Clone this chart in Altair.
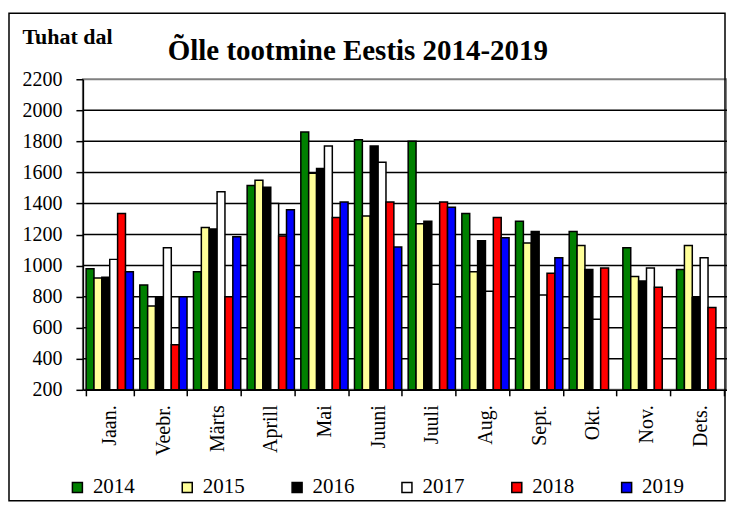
import altair as alt
import pandas as pd

months = ["Jaan.", "Veebr.", "Märts", "Aprill", "Mai", "Juuni",
          "Juuli", "Aug.", "Sept.", "Okt.", "Nov.", "Dets."]
years = ["2014", "2015", "2016", "2017", "2018", "2019"]
colors = ["#008000", "#FFFF99", "#000000", "#FFFFFF", "#FF0000", "#0000FF"]

v2014 = [980, 875, 960, 1515, 1860, 1810, 1800, 1335, 1285, 1220, 1115, 975]
v2015 = [920, 740, 1245, 1550, 1595, 1320, 1270, 960, 1145, 1130, 930, 1130]
v2016 = [925, 800, 1235, 1505, 1625, 1770, 1285, 1160, 1220, 975, 900, 795]
v2017 = [1040, 1115, 1475, 1400, 1770, 1665, 880, 835, 810, 655, 985, 1050]
v2018 = [1335, 490, 800, 1190, 1310, 1410, 1410, 1310, 950, 985, 860, 730]
v2019 = [960, 800, 1185, 1360, 1410, 1120, 1375, 1180, 1050, None, None, None]

y_ticks = [200, 400, 600, 800, 1000, 1200, 1400, 1600, 1800, 2000, 2200]
grid_vals = [400, 600, 800, 1000, 1200, 1400, 1600, 1800, 2000]

series = [v2014, v2015, v2016, v2017, v2018, v2019]
rows = []
for yr, vals in zip(years, series):
    for m, v in zip(months, vals):
        if v is not None:
            rows.append({"month": m, "year": yr, "value": v})
df = pd.DataFrame(rows)

FONT = "Liberation Serif"

y_scale = alt.Scale(domain=[200, 2200], nice=False, zero=False)
y_axis = alt.Axis(values=y_ticks, format="d", grid=False,
                  title="Tuhat dal", titleAngle=0,
                  titleX=-61, titleY=-36,
                  titleAlign="left", titleBaseline="alphabetic")

grid = alt.Chart(pd.DataFrame({"value": grid_vals})).mark_rule(
    color="black", strokeWidth=1.5
).encode(y=alt.Y("value:Q", scale=y_scale, axis=y_axis))

bars = alt.Chart(df).mark_bar(stroke="black", strokeWidth=1.5).encode(
    x=alt.X("month:N", sort=months,
            scale=alt.Scale(paddingInner=0.12, paddingOuter=0.06),
            axis=alt.Axis(title=None, labelAngle=-90, tickBand="extent",
                          grid=False)),
    xOffset=alt.XOffset("year:N", sort=years,
                        scale=alt.Scale(paddingInner=0, paddingOuter=0)),
    y=alt.Y("value:Q", scale=y_scale, axis=y_axis),
    y2=alt.datum(200),
    color=alt.Color("year:N", sort=years,
                    scale=alt.Scale(domain=years, range=colors),
                    legend=alt.Legend(title=None, orient="none",
                                      legendX=-16, legendY=398,
                                      direction="horizontal", columns=6,
                                      symbolType="square", symbolSize=100,
                                      symbolStrokeColor="black",
                                      symbolStrokeWidth=1.5,
                                      labelOffset=5,
                                      columnPadding=42, padding=0)),
)

frame = alt.Chart(pd.DataFrame({"a": [0]})).mark_rect(
    fill=None, stroke="black", strokeWidth=1.5
).encode(
    x=alt.value(-74), x2=alt.value(643),
    y=alt.value(-66), y2=alt.value(422),
)

chart = alt.layer(grid, bars, frame).properties(
    width=645, height=311,
    padding={"left": 75, "top": 71, "right": 0, "bottom": 114},
    autosize=alt.AutoSizeParams(type="none"),
    title=alt.Title("Õlle tootmine Eestis 2014-2019", font=FONT,
                    fontSize=29, fontWeight="bold", color="black",
                    anchor="start", frame="group", dx=85, offset=22, dy=98,
                    baseline="alphabetic"),
).configure(
    background="white", font=FONT
).configure_view(
    stroke="#808080", strokeWidth=2
).configure_axis(
    labelFont=FONT, titleFont=FONT, labelColor="black", titleColor="black",
    tickColor="black", tickWidth=1.5, domainColor="black", domainWidth=1.5,
    labelFontSize=20
).configure_axisY(
    tickSize=7, labelPadding=14, titleFontSize=22, titleFontWeight="bold"
).configure_axisX(
    tickSize=6, labelPadding=9
).configure_legend(labelFont=FONT, labelFontSize=21, labelColor="black")

chart.save("out.html", embed_options={"renderer": "svg", "actions": False})
